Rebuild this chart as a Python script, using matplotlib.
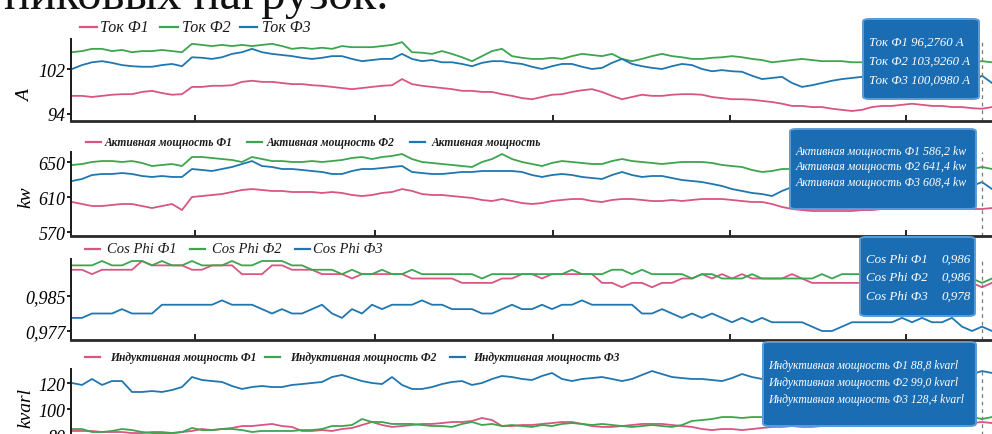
import numpy as np
import matplotlib
matplotlib.use("Agg")
import matplotlib.pyplot as plt
from matplotlib.lines import Line2D
from matplotlib.patches import FancyBboxPatch

# --- data (one sample every 10 px of the original chart) ---
tok_f1 = [97.2, 97.2, 97.0, 97.2, 97.4, 97.5, 97.5, 97.9, 98.1, 97.7,
          97.4, 97.5, 98.8, 98.8, 99.0, 99.0, 99.1, 99.7, 99.9, 99.7,
          99.7, 99.5, 99.3, 99.3, 99.1, 99.0, 98.8, 98.6, 98.4, 98.6,
          98.8, 99.0, 99.1, 100.2, 99.3, 99.0, 98.8, 98.6, 98.4, 98.1,
          98.1, 97.9, 97.9, 97.5, 97.2, 96.8, 96.6, 97.0, 97.4, 97.5,
          97.9, 98.2, 98.4, 97.9, 97.2, 96.6, 97.0, 97.4, 97.2, 97.2,
          97.4, 97.5, 97.5, 97.4, 97.0, 96.8, 96.6, 96.6, 96.5, 96.3,
          96.1, 95.8, 95.4, 95.4, 95.2, 95.2, 94.9, 94.7, 94.5, 94.7,
          95.2, 95.4, 95.4, 95.6, 95.8, 95.6, 95.4, 95.4, 95.2, 95.2,
          95.0, 94.9, 95.2]
tok_f2 = [105.0, 105.2, 105.6, 105.6, 105.2, 105.4, 105.0, 105.2, 105.2, 105.4,
          105.2, 105.0, 106.5, 106.3, 106.1, 106.3, 106.1, 106.3, 106.1, 106.3,
          106.5, 106.1, 105.6, 105.8, 105.6, 105.8, 105.6, 106.1, 105.9, 105.9,
          105.9, 106.1, 106.3, 106.8, 105.0, 104.9, 104.7, 105.2, 104.7, 104.1,
          103.4, 104.3, 105.2, 105.6, 104.3, 104.0, 103.8, 103.8, 104.0, 103.8,
          104.3, 104.7, 104.5, 104.3, 104.7, 103.8, 103.4, 103.8, 104.3, 104.7,
          104.3, 104.1, 103.8, 103.8, 104.0, 104.1, 104.3, 104.1, 103.8, 103.6,
          103.2, 103.4, 103.6, 103.8, 103.6, 103.4, 103.4, 103.4, 103.2, 103.2,
          103.2, 103.4, 103.2, 103.2, 103.4, 103.2, 103.4, 103.2, 103.2, 103.4,
          103.2, 103.4, 103.2]
tok_f3 = [102.0, 102.7, 103.2, 103.4, 103.1, 102.7, 102.5, 102.4, 102.4, 102.7,
          102.9, 102.5, 104.1, 104.0, 103.8, 104.1, 104.7, 105.0, 105.6, 105.0,
          104.7, 104.5, 104.3, 104.0, 103.8, 104.0, 104.3, 104.3, 103.8, 103.4,
          103.6, 103.8, 103.8, 104.7, 103.8, 103.4, 103.6, 103.2, 103.2, 102.9,
          102.5, 103.1, 103.4, 103.4, 103.1, 102.9, 102.4, 102.0, 102.5, 102.9,
          102.9, 102.4, 102.0, 102.2, 103.1, 103.8, 102.9, 102.5, 102.2, 102.0,
          102.5, 102.9, 102.7, 102.0, 101.6, 101.8, 101.6, 101.5, 100.8, 100.2,
          100.4, 100.6, 99.5, 98.8, 99.1, 99.5, 99.9, 100.2, 100.4, 100.6,
          100.4, 100.2, 100.6, 100.4, 100.2, 100.0, 100.2, 100.0, 99.9, 99.9,
          99.7, 100.8, 99.5]

p_f1 = [604.3, 602.0, 599.7, 599.7, 600.9, 602.0, 602.0, 599.7, 597.4, 599.7,
        602.0, 595.1, 610.0, 611.1, 612.3, 613.4, 615.7, 618.0, 619.1, 618.0,
        616.9, 616.9, 615.7, 615.7, 615.7, 614.6, 615.7, 614.6, 612.3, 611.1,
        612.3, 614.6, 615.7, 619.1, 616.9, 613.4, 612.3, 612.3, 611.1, 610.0,
        608.9, 606.6, 605.4, 607.7, 605.4, 603.1, 602.0, 603.1, 605.4, 606.6,
        607.7, 607.7, 605.4, 604.3, 606.6, 607.7, 607.7, 606.6, 605.4, 605.4,
        606.6, 605.4, 606.6, 607.7, 607.7, 607.7, 606.6, 605.4, 604.3, 604.3,
        602.0, 598.6, 596.3, 595.1, 594.0, 594.0, 594.0, 594.0, 594.0, 595.1,
        595.1, 596.3, 596.3, 596.3, 597.4, 597.4, 598.6, 598.6, 597.4, 597.4,
        596.3, 596.3, 597.4]
p_f2 = [646.6, 647.7, 650.0, 651.1, 651.1, 650.0, 651.1, 648.9, 645.4, 646.6,
        647.7, 645.4, 655.7, 655.7, 654.6, 653.4, 652.3, 650.0, 655.7, 653.4,
        651.1, 651.1, 650.0, 650.0, 651.1, 650.0, 651.1, 652.3, 654.6, 655.7,
        653.4, 655.7, 656.9, 659.1, 653.4, 650.0, 648.9, 647.7, 646.6, 645.4,
        644.3, 650.0, 653.4, 659.1, 653.4, 650.0, 647.7, 645.4, 648.9, 651.1,
        650.0, 648.9, 647.7, 647.7, 651.1, 653.4, 651.1, 650.0, 648.9, 647.7,
        648.9, 650.0, 650.0, 650.0, 648.9, 646.6, 645.4, 644.3, 640.9, 638.6,
        639.7, 642.0, 642.0, 640.9, 639.7, 638.6, 639.7, 640.9, 642.0, 642.0,
        640.9, 642.0, 643.1, 642.0, 640.9, 642.0, 643.1, 642.0, 640.9, 642.0,
        642.0, 644.3, 642.0]
p_f3 = [628.3, 630.6, 635.1, 636.3, 636.3, 637.4, 636.3, 634.0, 632.9, 634.0,
        632.9, 632.9, 642.0, 640.9, 639.7, 642.0, 644.3, 647.7, 651.1, 645.4,
        644.3, 642.0, 642.0, 640.9, 639.7, 638.6, 636.3, 636.3, 639.7, 642.0,
        642.0, 643.1, 644.3, 645.4, 638.6, 637.4, 636.3, 636.3, 637.4, 638.6,
        638.6, 639.7, 639.7, 639.7, 639.7, 638.6, 635.1, 632.9, 635.1, 636.3,
        635.1, 632.9, 631.7, 630.6, 635.1, 638.6, 635.1, 632.9, 634.0, 634.0,
        631.7, 629.4, 628.3, 627.1, 624.9, 622.6, 619.1, 616.9, 614.6, 613.4,
        611.1, 616.9, 621.4, 613.4, 612.3, 613.4, 613.4, 614.6, 616.9, 619.1,
        618.0, 616.9, 618.0, 619.1, 620.3, 619.1, 620.3, 621.4, 620.3, 621.4,
        622.6, 627.1, 619.1]

# cos phi in thousandths
cos_f1 = [991, 991, 990, 991, 991, 991, 991, 993, 992, 992,
          992, 992, 991, 991, 992, 992, 992, 990, 990, 990,
          992, 992, 991, 991, 991, 990, 990, 990, 989, 990,
          990, 990, 990, 990, 989, 989, 989, 989, 989, 988,
          988, 988, 988, 989, 989, 990, 990, 989, 990, 990,
          990, 990, 990, 988, 988, 987, 988, 988, 987, 988,
          988, 989, 989, 990, 989, 990, 989, 990, 989, 989,
          989, 989, 990, 989, 988, 988, 988, 988, 988, 988,
          988, 988, 988, 988, 988, 988, 988, 988, 988, 988,
          988, 987, 988]
cos_f2 = [992, 992, 992, 993, 992, 992, 993, 993, 992, 993,
          992, 992, 993, 992, 992, 992, 993, 992, 992, 993,
          993, 993, 992, 992, 991, 991, 991, 990, 991, 990,
          990, 991, 990, 990, 991, 990, 990, 990, 990, 990,
          990, 989, 990, 990, 990, 990, 990, 990, 990, 990,
          991, 990, 990, 990, 991, 991, 990, 991, 990, 990,
          990, 990, 989, 990, 990, 989, 989, 989, 990, 989,
          989, 989, 989, 989, 989, 990, 989, 990, 990, 990,
          990, 990, 990, 990, 990, 990, 990, 990, 990, 990,
          989, 988, 989]
cos_f3 = [980, 980, 981, 981, 981, 982, 981, 981, 981, 983,
          983, 983, 983, 983, 983, 984, 983, 983, 983, 982,
          981, 982, 981, 981, 982, 983, 981, 980, 982, 981,
          983, 982, 983, 983, 983, 984, 983, 983, 982, 982,
          982, 981, 981, 982, 983, 982, 982, 983, 982, 983,
          983, 984, 983, 983, 983, 983, 983, 981, 981, 982,
          981, 980, 981, 980, 981, 980, 979, 980, 979, 980,
          979, 979, 979, 979, 978, 977, 977, 978, 979, 979,
          979, 979, 979, 980, 979, 980, 979, 979, 980, 978,
          977, 978, 977]

q_f1 = [83.1, 83.1, 83.1, 82.3, 82.3, 82.3, 81.5, 81.5, 82.3, 82.3,
        81.5, 82.3, 83.1, 84.6, 83.8, 84.6, 85.4, 86.9, 86.9, 87.7,
        88.5, 86.9, 86.2, 83.1, 83.1, 83.8, 83.1, 84.6, 85.4, 87.7,
        90.0, 87.7, 86.2, 86.9, 87.7, 88.5, 88.5, 89.2, 90.0, 90.0,
        90.8, 93.1, 91.5, 86.9, 86.9, 87.7, 87.7, 88.5, 89.2, 90.0,
        90.0, 88.5, 86.9, 86.2, 86.2, 86.9, 87.7, 88.5, 88.5, 88.5,
        87.7, 86.9, 86.2, 84.6, 83.8, 84.6, 84.6, 83.8, 84.6, 85.4,
        86.2, 86.2, 86.9, 86.2, 86.2, 86.9, 86.9, 87.7, 86.9, 87.7,
        87.7, 88.5, 87.7, 88.5, 88.5, 87.7, 87.7, 88.5, 88.5, 89.2,
        89.2, 90.0, 89.2]
q_f2 = [84.6, 84.6, 82.3, 82.3, 83.1, 84.6, 83.8, 82.3, 81.5, 81.5,
        81.5, 82.3, 85.4, 83.8, 83.8, 84.6, 84.6, 83.8, 82.3, 83.1,
        83.1, 83.1, 83.1, 83.8, 83.8, 84.6, 86.9, 86.9, 87.7, 92.3,
        90.0, 90.0, 88.5, 88.5, 88.5, 87.7, 86.9, 86.9, 86.2, 88.5,
        90.0, 87.7, 88.5, 86.9, 87.7, 86.9, 86.2, 87.7, 86.9, 88.5,
        89.2, 88.5, 87.7, 88.5, 87.7, 86.9, 86.2, 86.9, 87.7, 86.9,
        86.2, 87.7, 90.8, 91.5, 92.3, 93.8, 93.8, 93.1, 93.8, 93.8,
        93.1, 92.3, 93.1, 93.8, 94.6, 94.6, 95.4, 95.4, 94.6, 95.4,
        95.4, 96.2, 95.4, 95.4, 96.2, 96.2, 95.4, 95.4, 94.6, 93.8,
        93.8, 92.3, 93.8]
q_f3 = [120.0, 118.5, 123.1, 118.5, 121.5, 121.5, 113.1, 113.1, 113.8, 113.1,
        114.6, 116.9, 124.6, 122.3, 121.5, 120.8, 117.7, 115.4, 116.9, 117.7,
        116.9, 116.9, 118.5, 119.2, 120.0, 120.8, 124.6, 126.2, 123.8, 121.5,
        120.0, 119.2, 124.6, 118.5, 115.4, 115.4, 116.9, 119.2, 120.8, 121.5,
        118.5, 120.0, 123.1, 125.4, 124.6, 123.1, 122.3, 125.4, 127.7, 123.1,
        121.5, 123.1, 123.8, 124.6, 123.1, 121.5, 123.1, 126.2, 129.2, 126.9,
        124.6, 123.8, 123.1, 123.1, 122.3, 121.5, 123.8, 126.9, 124.6, 123.1,
        124.6, 125.4, 124.6, 125.4, 126.2, 125.4, 126.2, 125.4, 126.2, 125.4,
        126.2, 126.9, 126.2, 126.9, 126.2, 126.9, 126.2, 126.2, 126.9, 127.7,
        126.9, 129.2, 127.7]

labels_tok = ["Ток Ф1", "Ток Ф2", "Ток Ф3"]
labels_p = ["Активная мощность Ф1", "Активная мощность Ф2", "Активная мощность"]
labels_cos = ["Cos Phi Ф1", "Cos Phi Ф2", "Cos Phi Ф3"]
labels_q = ["Индуктивная мощность Ф1", "Индуктивная мощность Ф2", "Индуктивная мощность Ф3"]

tip_tok = ["Ток Ф1 96,2760 А", "Ток Ф2 103,9260 А", "Ток Ф3 100,0980 А"]
tip_p = ["Активная мощность Ф1 586,2 kw", "Активная мощность Ф2 641,4 kw",
         "Активная мощность Ф3 608,4 kw"]
tip_cos = [("Cos Phi Ф1", "0,986"), ("Cos Phi Ф2", "0,986"), ("Cos Phi Ф3", "0,978")]
tip_q = ["Индуктивная мощность Ф1 88,8 kvarl", "Индуктивная мощность Ф2 99,0 kvarl",
         "Индуктивная мощность Ф3 128,4 kvarl"]

colors = ["#d95583", "#3da54f", "#1f77b0"]
SERIF = "Liberation Serif"

W, H = 992, 435
fig = plt.figure(figsize=(W / 100, H / 100), dpi=100)


def fx(px):
    return px / W


def fy(py):
    return 1 - py / H


t = np.arange(len(tok_f1))
cursor = 91          # sample under the dashed hover line
xticks = [12.3, 30.3, 48.1, 65.8, 83.4]


def panel(top, bottom, series, ylim, yticks, yticklabels):
    ax = fig.add_axes([fx(71), fy(bottom), fx(992) - fx(71), (bottom - top) / H])
    for s, c in zip(series, colors):
        ax.plot(t, s, color=c, lw=1.3, solid_joinstyle="round")
    ax.axvline(cursor, color="#7a7a7a", lw=0.9, ls=(0, (3, 3)))
    ax.set_xlim(-0.1, 92)
    ax.set_ylim(*ylim)
    for sp in ["top", "right"]:
        ax.spines[sp].set_visible(False)
    ax.spines["left"].set_linewidth(1.4)
    ax.spines["bottom"].set_linewidth(2.0)
    ax.spines["left"].set_color("#1a1a1a")
    ax.spines["bottom"].set_color("#2a2a2a")
    ax.set_xticks(xticks)
    ax.tick_params(axis="x", direction="in", length=4, width=1.2, labelbottom=False)
    ax.set_yticks(yticks)
    ax.set_yticklabels(yticklabels, fontfamily=SERIF, fontstyle="italic", fontsize=13)
    ax.tick_params(axis="y", length=3, width=1.2, pad=1)
    return ax


panel(40, 122, [tok_f1, tok_f2, tok_f3], (92.71, 107.36), [94, 102], ["94", "102"])
panel(153, 237, [p_f1, p_f2, p_f3], (565.43, 661.43), [570, 610, 650], ["570", "610", "650"])
cos_series = [np.array(s) / 1000 for s in (cos_f1, cos_f2, cos_f3)]
panel(260, 341, cos_series, (0.974943, 0.993457), [0.977, 0.985], ["0,977", "0,985"])
panel(370, 445, [q_f1, q_f2, q_f3], (73.08, 130.77), [80, 100, 120], ["80", "100", "120"])

# y axis titles
for txt, y in [("A", 96), ("kw", 197), ("kvarl", 408)]:
    fig.text(fx(26), fy(y), txt, rotation=90, ha="center", va="center",
             fontfamily=SERIF, fontstyle="italic", fontsize=14)

# legends (manual, as in the scan)
legends = [
    (28, labels_tok, [(80, 97, 100), (160, 178, 182), (240, 257, 262)], 11.5, "normal"),
    (143, labels_p, [(86, 101, 105), (247, 262, 267), (410, 425, 432)], 8.3, "bold"),
    (250, labels_cos, [(85, 100, 107), (190, 205, 212), (295, 310, 313)], 10.5, "normal"),
    (358, labels_q, [(85, 100, 110), (265, 280, 290), (450, 465, 473)], 8.3, "bold"),
]
for y, labs, pos, fs, fw in legends:
    for lab, (x0, x1, xt), c in zip(labs, pos, colors):
        fig.add_artist(Line2D([fx(x0), fx(x1)], [fy(y), fy(y)], color=c, lw=1.6))
        fig.text(fx(xt), fy(y), lab, ha="left", va="center", fontfamily=SERIF,
                 fontstyle="italic", fontweight=fw, fontsize=fs, color="#1a1a1a")


# hover tooltips
def tooltip(x0, y0, x1, y1):
    box = FancyBboxPatch((fx(x0), fy(y1)), fx(x1) - fx(x0), (y1 - y0) / H,
                         boxstyle="round,pad=0,rounding_size=0.006",
                         transform=fig.transFigure, facecolor="#1b6db3",
                         edgecolor="#5b9bd6", lw=1.4, zorder=5)
    fig.add_artist(box)


def tip_text(x, y, s, fs):
    fig.text(fx(x), fy(y), s, fontfamily=SERIF, fontstyle="italic", fontsize=fs,
             color="white", va="center", ha="left", zorder=6)


tooltip(863, 20, 979, 100)
for line, y in zip(tip_tok, [43, 62, 81]):
    tip_text(869, y, line, 9.2)

tooltip(790, 130, 976, 210)
for line, y in zip(tip_p, [152, 167, 183]):
    tip_text(796, y, line, 8.6)

tooltip(860, 238, 975, 317)
for (name, val), y in zip(tip_cos, [260, 278, 297]):
    tip_text(866, y, name, 9.4)
    tip_text(942, y, val, 9.4)

tooltip(763, 343, 976, 427)
for line, y in zip(tip_q, [366, 383, 400]):
    tip_text(768, y, line, 8.4)

# cut-off line of body text at the top of the scanned page
fig.text(fx(4), fy(9), "пиковых нагрузок.", ha="left", va="baseline",
         fontfamily=SERIF, fontsize=35, color="#111111")

fig.savefig("out.png", dpi=100)
